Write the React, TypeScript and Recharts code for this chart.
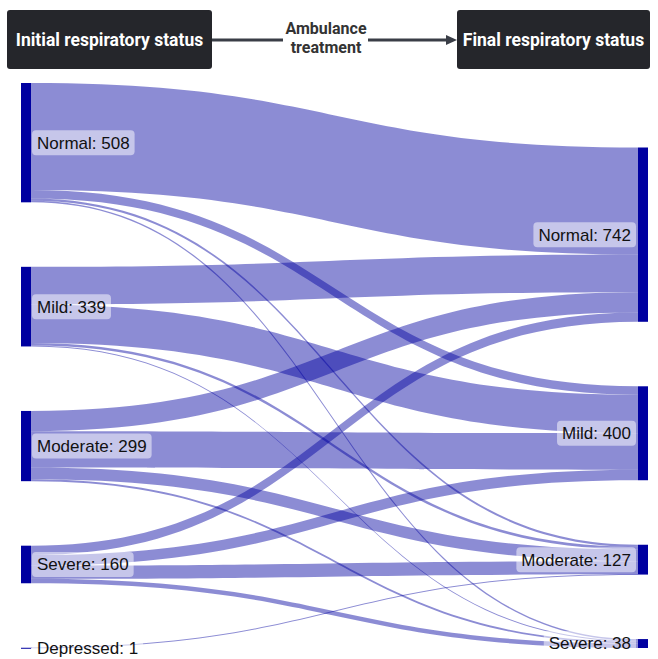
import { Sankey } from "recharts";

// initial status (left column) and final status (right column)
const initialStatus = ["Normal", "Mild", "Moderate", "Severe", "Depressed"];
const finalStatus = ["Normal", "Mild", "Moderate", "Severe"];

// patients moving from each initial status to [Normal, Mild, Moderate, Severe]
const fromNormal = [456, 36, 9, 7];
const fromMild = [160, 164, 11, 4];
const fromModerate = [86, 155, 50, 8];
const fromSevere = [40, 45, 56, 19];
const fromDepressed = [0, 0, 1, 0];

const flows = [fromNormal, fromMild, fromModerate, fromSevere, fromDepressed];

const nodes = [
  ...initialStatus.map((name) => ({ name })),
  ...finalStatus.map((name) => ({ name })),
];

const links = flows.flatMap((row, i) =>
  row
    .map((value, j) => ({ source: i, target: initialStatus.length + j, value }))
    .filter((l) => l.value > 0)
);

const NODE_COLOR = "#0000a0";
const LINK_COLOR = "rgb(0,0,160)";
const LABEL_FONT = "'Liberation Sans', Arial, Helvetica, sans-serif";
const HEADER_FONT = "Roboto, 'Liberation Sans', Arial, sans-serif";

const ctx = typeof document !== "undefined" ? document.createElement("canvas").getContext("2d") : null;
function textWidth(s: string, font: string) {
  if (!ctx) return s.length * 9;
  ctx.font = font;
  return ctx.measureText(s).width;
}

function renderLink(props: any) {
  const { sourceX, targetX, sourceY, targetY, sourceControlX, targetControlX, linkWidth, index } = props;
  const h = Math.max(linkWidth, 0.9) / 2;
  const d =
    `M${sourceX},${sourceY - h} C${sourceControlX},${sourceY - h} ${targetControlX},${targetY - h} ${targetX},${targetY - h} ` +
    `L${targetX},${targetY + h} C${targetControlX},${targetY + h} ${sourceControlX},${sourceY + h} ${sourceX},${sourceY + h} Z`;
  return <path key={`link-${index}`} d={d} fill={LINK_COLOR} fillOpacity={0.45} stroke="none" />;
}

function renderNode(props: any) {
  const { x, y, width, height, index, payload } = props;
  const left = payload.depth === 0;
  const label = `${payload.name}: ${payload.value}`;
  const fs = 17;
  const tw = textWidth(label, `${fs}px ${LABEL_FONT}`);
  const cy = y + height / 2;
  const textX = left ? x + width + 6 : x - 7;
  const bgX = left ? x + width + 1 : x - 2 - tw - 10;
  return (
    <g key={`node-${index}`}>
      <rect x={x} y={y} width={width} height={Math.max(height, 1)} fill={NODE_COLOR} />
      <rect x={bgX} y={cy - 12.5} width={tw + 10} height={25} rx={4} fill="#fff" fillOpacity={0.5} />
      <text
        x={textX}
        y={cy}
        dy="0.35em"
        textAnchor={left ? "start" : "end"}
        fontFamily={LABEL_FONT}
        fontSize={fs}
        fill="#111"
      >
        {label}
      </text>
    </g>
  );
}

const boxStyle: React.CSSProperties = {
  position: "absolute",
  top: 10,
  height: 59,
  background: "#25262b",
  borderRadius: 3,
  color: "#fff",
  display: "flex",
  alignItems: "center",
  justifyContent: "center",
  fontFamily: HEADER_FONT,
  fontWeight: 700,
  fontSize: 17.5,
};

export default function App() {
  return (
    <div style={{ position: "absolute", left: 0, top: 0, width: 658, height: 659, background: "#fff", overflow: "hidden" }}>
      <div style={{ ...boxStyle, left: 7, width: 205 }}>Initial respiratory status</div>
      <div style={{ ...boxStyle, left: 457, width: 193 }}>Final respiratory status</div>
      <svg width={658} height={80} style={{ position: "absolute", left: 0, top: 0 }}>
        <line x1={212} y1={40} x2={283} y2={40} stroke="#3a3e47" strokeWidth={3} />
        <line x1={368} y1={40} x2={448} y2={40} stroke="#3a3e47" strokeWidth={3} />
        <polygon points="446,35 457,40 446,45" fill="#3a3e47" />
        <text x={326} y={28} dy="0.35em" textAnchor="middle" fontFamily={HEADER_FONT} fontWeight={700} fontSize={16} fill="#333">
          Ambulance
        </text>
        <text x={326} y={47} dy="0.35em" textAnchor="middle" fontFamily={HEADER_FONT} fontWeight={700} fontSize={16} fill="#333">
          treatment
        </text>
      </svg>
      <div style={{ position: "absolute", left: 21, top: 83 }}>
        <Sankey
          width={627}
          height={576}
          data={{ nodes, links }}
          nodeWidth={10}
          nodePadding={64.5}
          margin={{ top: 0, left: 0, right: 0, bottom: 11 }}
          iterations={32}
          sort={false}
          linkCurvature={0.5}
          node={renderNode}
          link={renderLink}
        />
      </div>
    </div>
  );
}
